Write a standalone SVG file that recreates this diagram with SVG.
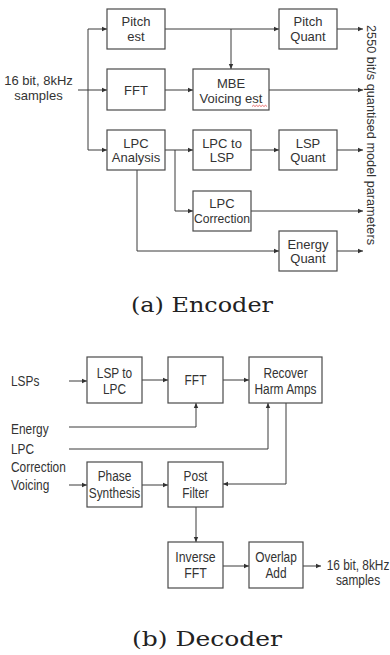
<svg xmlns="http://www.w3.org/2000/svg" width="390" height="655" viewBox="0 0 390 655">
<style>
.box{fill:#fff;stroke:#4a4a4a;stroke-width:1.2}
.ln{fill:none;stroke:#3a3a3a;stroke-width:1}
.ar{marker-end:url(#ah)}
.t{font-family:"Liberation Sans",Arial,sans-serif;font-size:13px;fill:#333;text-anchor:middle}
.tl{font-family:"Liberation Sans",Arial,sans-serif;font-size:13px;fill:#333}
.n{font-family:"Liberation Sans",Arial,sans-serif;font-size:14.5px;fill:#333;text-anchor:middle}
.nl{font-family:"Liberation Sans",Arial,sans-serif;font-size:14.5px;fill:#333}
.cap{font-family:"DejaVu Serif","Liberation Serif",serif;font-size:21px;fill:#222;text-anchor:middle}
</style>
<defs>
<marker id="ah" markerWidth="6" markerHeight="6" refX="5" refY="3" orient="auto" markerUnits="userSpaceOnUse">
<path d="M0,0.8 L5,3 L0,5.2 Z" fill="#333"/>
</marker>
</defs>
<rect width="390" height="655" fill="#fff"/>

<g id="connectors">
<!-- encoder -->
<path class="ln" d="M78,90 H88 M88,29 V150"/>
<path class="ln ar" d="M88,29 H107"/>
<path class="ln ar" d="M88,90 H107"/>
<path class="ln ar" d="M88,150 H107"/>
<path class="ln ar" d="M165,29 H279"/>
<path class="ln ar" d="M231,29 V69"/>
<path class="ln ar" d="M165,90 H193"/>
<path class="ln ar" d="M269,90 H363"/>
<path class="ln ar" d="M337,29 H363"/>
<path class="ln ar" d="M165,150 H193"/>
<path class="ln ar" d="M175,150 V211 H193"/>
<path class="ln ar" d="M251,150 H279"/>
<path class="ln ar" d="M337,150 H363"/>
<path class="ln ar" d="M251,211 H363"/>
<path class="ln ar" d="M137,170 V251 H279"/>
<path class="ln ar" d="M337,251 H363"/>
<!-- decoder -->
<path class="ln ar" d="M69,381 H87"/>
<path class="ln ar" d="M142,380 H168"/>
<path class="ln ar" d="M223,380 H249"/>
<path class="ln ar" d="M69,427 H196 V403"/>
<path class="ln ar" d="M69,449 H268 V403"/>
<path class="ln ar" d="M69,485 H87"/>
<path class="ln ar" d="M142,485 H168"/>
<path class="ln ar" d="M286,403 V484 H223"/>
<path class="ln ar" d="M196,507 V542"/>
<path class="ln ar" d="M223,566 H249"/>
<path class="ln ar" d="M303,566 H321"/>
</g>

<!-- encoder nodes -->
<g id="input-enc">
<text class="t" x="38.5" y="85">16 bit, 8kHz</text>
<text class="t" x="38.5" y="100">samples</text>
</g>
<g id="pitch-est">
<rect class="box" x="107" y="9" width="58" height="40"/>
<text class="t" x="136" y="26">Pitch</text>
<text class="t" x="136" y="41">est</text>
</g>
<g id="fft-enc">
<rect class="box" x="107" y="69" width="58" height="41"/>
<text class="t" x="136" y="95">FFT</text>
</g>
<g id="lpc-analysis">
<rect class="box" x="107" y="130" width="58" height="40"/>
<text class="t" x="136" y="148">LPC</text>
<text class="t" x="136" y="162">Analysis</text>
</g>
<g id="mbe">
<rect class="box" x="193" y="69" width="76" height="41"/>
<text class="t" x="231" y="88">MBE</text>
<text class="t" x="231" y="103">Voicing est</text>
<path d="M252,106.5 l1.5,-1.2 l1.5,1.2 l1.5,-1.2 l1.5,1.2 l1.5,-1.2 l1.5,1.2 l1.5,-1.2 l1.5,1.2 l1.5,-1.2 l1.5,1.2" fill="none" stroke="#d33" stroke-width="0.7"/>
</g>
<g id="pitch-quant">
<rect class="box" x="279" y="9" width="58" height="40"/>
<text class="t" x="308" y="26">Pitch</text>
<text class="t" x="308" y="41">Quant</text>
</g>
<g id="lpc-to-lsp">
<rect class="box" x="193" y="130" width="58" height="40"/>
<text class="t" x="222" y="148">LPC to</text>
<text class="t" x="222" y="162">LSP</text>
</g>
<g id="lsp-quant">
<rect class="box" x="279" y="130" width="58" height="40"/>
<text class="t" x="308" y="148">LSP</text>
<text class="t" x="308" y="162">Quant</text>
</g>
<g id="lpc-correction">
<rect class="box" x="193" y="191" width="58" height="40"/>
<text class="t" x="222" y="208">LPC</text>
<text class="t" x="222" y="223" textLength="56" lengthAdjust="spacingAndGlyphs">Correction</text>
</g>
<g id="energy-quant">
<rect class="box" x="279" y="231" width="58" height="40"/>
<text class="t" x="308" y="249">Energy</text>
<text class="t" x="308" y="263">Quant</text>
</g>
<g id="output-enc">
<text class="tl" transform="translate(367,25) rotate(90)" textLength="220" lengthAdjust="spacingAndGlyphs">2550 bit/s quantised model parameters</text>
</g>
<text class="cap" x="202" y="312" textLength="142" lengthAdjust="spacingAndGlyphs">(a)  Encoder</text>

<!-- decoder nodes -->
<g id="in-lsps"><text class="nl" transform="translate(11,386) scale(0.82,1)">LSPs</text></g>
<g id="in-energy"><text class="nl" transform="translate(11,434) scale(0.82,1)">Energy</text></g>
<g id="in-lpccorr">
<text class="nl" transform="translate(11,454) scale(0.82,1)">LPC</text>
<text class="nl" transform="translate(11,472) scale(0.82,1)">Correction</text>
</g>
<g id="in-voicing"><text class="nl" transform="translate(11,490) scale(0.82,1)">Voicing</text></g>
<g id="lsp-to-lpc">
<rect class="box" x="87" y="357" width="55" height="46"/>
<text class="n" transform="translate(114.5,378) scale(0.82,1)">LSP to</text>
<text class="n" transform="translate(114.5,394) scale(0.82,1)">LPC</text>
</g>
<g id="fft-dec">
<rect class="box" x="168" y="357" width="55" height="46"/>
<text class="n" transform="translate(195.5,385) scale(0.82,1)">FFT</text>
</g>
<g id="recover">
<rect class="box" x="249" y="357" width="73" height="46"/>
<text class="n" transform="translate(285.5,378) scale(0.82,1)">Recover</text>
<text class="n" transform="translate(285.5,394) scale(0.82,1)">Harm Amps</text>
</g>
<g id="phase-synth">
<rect class="box" x="87" y="462" width="55" height="45"/>
<text class="n" transform="translate(114.5,481) scale(0.82,1)">Phase</text>
<text class="n" transform="translate(114.5,498) scale(0.82,1)">Synthesis</text>
</g>
<g id="post-filter">
<rect class="box" x="168" y="462" width="55" height="45"/>
<text class="n" transform="translate(195.5,481) scale(0.82,1)">Post</text>
<text class="n" transform="translate(195.5,498) scale(0.82,1)">Filter</text>
</g>
<g id="inverse-fft">
<rect class="box" x="168" y="542" width="55" height="46"/>
<text class="n" transform="translate(195.5,562) scale(0.85,1)">Inverse</text>
<text class="n" transform="translate(195.5,578) scale(0.85,1)">FFT</text>
</g>
<g id="overlap-add">
<rect class="box" x="249" y="542" width="54" height="46"/>
<text class="n" transform="translate(276,562) scale(0.82,1)">Overlap</text>
<text class="n" transform="translate(276,578) scale(0.82,1)">Add</text>
</g>
<g id="output-dec">
<text class="n" transform="translate(358,570) scale(0.82,1)">16 bit, 8kHz</text>
<text class="n" transform="translate(358,585) scale(0.82,1)">samples</text>
</g>
<text class="cap" x="207" y="646" textLength="150" lengthAdjust="spacingAndGlyphs">(b)  Decoder</text>
</svg>
